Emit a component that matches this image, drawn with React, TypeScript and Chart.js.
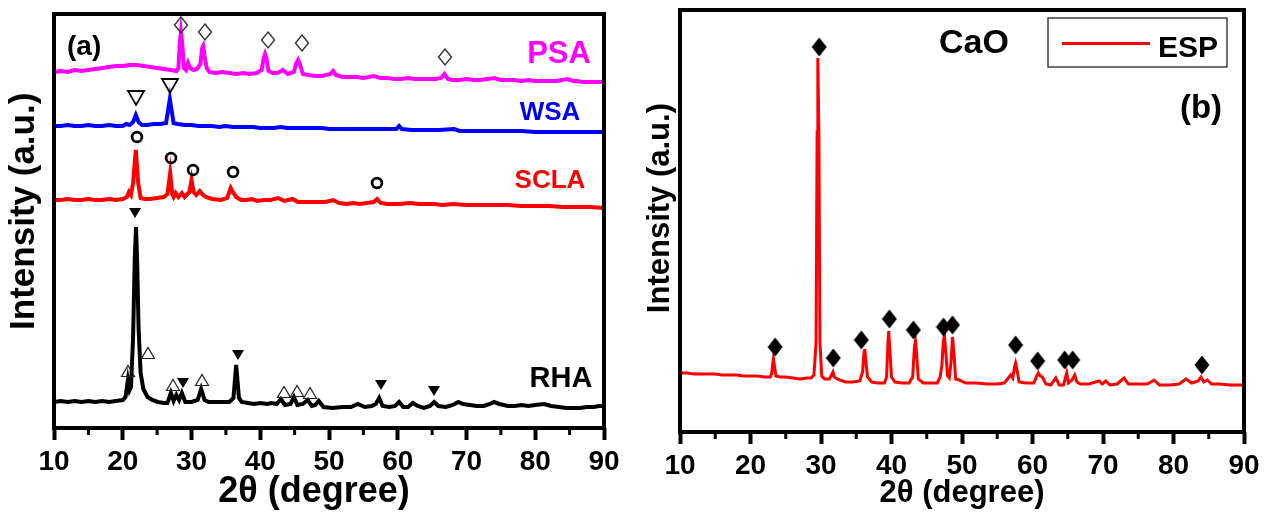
import { useEffect, useRef } from "react";
import { Chart, registerables } from "chart.js";

Chart.register(...registerables);

const FONT = "'Liberation Sans', Arial, Helvetica, sans-serif";

type P = [number, number];

// ---- Panel (a): XRD patterns of the four ashes (2θ in degrees, intensity in a.u.) ----
const PSA: P[] = [
  [10, 356], [11, 357], [12, 356], [13, 358], [14, 357], [15, 358], [16, 359], [17, 360], [18, 361], [19, 362],
  [20, 362], [21, 363], [22, 363], [23, 362], [24, 361], [25, 360], [26, 359], [27, 358], [27.8, 357], [28.1, 360],
  [28.3, 385], [28.47, 396], [28.65, 385], [28.9, 360], [29.2, 358], [29.5, 365], [29.8, 360], [30.3, 358], [30.8, 359],
  [31.3, 364], [31.55, 380], [31.7, 382], [31.9, 372], [32.2, 360], [32.6, 356], [33.5, 355], [34.5, 356], [35.5, 355],
  [36.5, 354], [37.5, 355], [38.5, 354], [39.5, 355], [40.2, 358], [40.5, 370], [40.7, 374], [40.9, 370], [41.2, 357],
  [41.8, 355], [42.5, 355], [43.3, 358], [44, 354], [44.9, 356], [45.2, 364], [45.5, 368], [45.8, 363], [46.2, 354],
  [47, 353], [48, 352], [49, 352], [50.2, 354], [50.6, 357], [51, 353], [52, 351], [53, 351], [54, 351], [55, 350],
  [56.5, 352], [57.5, 350], [58.5, 350], [59.5, 349], [60.5, 349], [61.5, 350], [62.5, 349], [63.5, 349], [64.5, 349],
  [65.5, 349], [66.3, 350], [66.8, 354], [67.3, 349], [68, 348], [69, 348], [70, 349], [71, 348], [72, 348], [73, 349],
  [74, 350], [75, 348], [76, 348], [77, 348], [78, 347], [79, 348], [80, 347], [81, 347], [82, 347], [83, 347],
  [84.7, 349], [85.5, 347], [86, 347], [87, 346], [88, 346], [89, 346], [90, 346],
];

const WSA: P[] = [
  [10, 302], [11, 302], [12, 303], [13, 302], [14, 302], [15, 303], [16, 302], [17, 302], [18, 303], [19, 302],
  [20, 302], [20.5, 304], [21, 303], [21.5, 306], [21.9, 313], [22.3, 306], [22.8, 303], [23.5, 303], [24.5, 304],
  [25.5, 304], [26.3, 305], [26.6, 318], [26.85, 329], [27.1, 318], [27.4, 305], [28, 304], [29, 303], [30, 303],
  [31, 302], [32, 302], [33, 302], [34, 301], [35, 302], [36, 301], [37, 301], [38, 301], [39, 301], [40, 300],
  [41, 300], [42, 300], [43, 301], [44, 300], [45, 300], [46, 300], [47, 300], [48, 300], [49, 300], [50, 299],
  [52, 299], [54, 299], [56, 299], [58, 299], [59.8, 299], [60.2, 302], [60.6, 299], [62, 298], [64, 298], [66, 298],
  [68.2, 299], [69, 297], [70, 297], [72, 297], [74, 297], [76, 297], [78, 297], [80, 296], [82, 296], [84, 296],
  [86, 296], [88, 296], [90, 296],
];

const SCLA: P[] = [
  [10, 228], [11, 228], [12, 229], [13, 228], [14, 228], [15, 229], [16, 228], [17, 228], [18, 229], [19, 228],
  [20, 229], [20.6, 231], [20.9, 236], [21.2, 233], [21.5, 245], [21.9, 278], [22.25, 245], [22.6, 230], [23.2, 229],
  [24, 229], [25, 230], [26, 231], [26.5, 234], [26.9, 255], [27.2, 234], [27.4, 231], [27.7, 235], [28.1, 231],
  [28.6, 235], [29.0, 231], [29.7, 236], [30.0, 248], [30.3, 236], [30.7, 233], [31.2, 237], [31.7, 233], [32.1, 231],
  [33, 229], [34.3, 228], [35.2, 230], [35.5, 236], [35.7, 240], [36.1, 235], [36.5, 231], [37.2, 228], [38, 228],
  [38.8, 229], [39.6, 227], [40.5, 228], [41.5, 228], [42.6, 230], [43.5, 227], [44.7, 229], [45.5, 226], [46.5, 226],
  [47.5, 226], [48.5, 226], [49.5, 226], [50.6, 228], [51.5, 225], [52.5, 224], [53.5, 225], [54.5, 224], [55.5, 225],
  [56.5, 226], [57.0, 229], [57.5, 225], [58.5, 224], [60, 224], [61.9, 225], [63, 224], [65.3, 224], [66.5, 223],
  [68, 224], [70, 223], [72, 223], [74, 223], [76, 223], [78, 222], [80, 222], [82, 222], [84, 221], [86, 221],
  [88, 221], [90, 220],
];

const RHA: P[] = [
  [10, 26], [11, 27], [12, 26], [13, 27], [14, 26], [15, 27], [16, 26], [17, 27], [18, 26], [19, 27], [20, 28],
  [20.4, 31], [20.75, 48], [21.0, 38], [21.2, 41], [21.5, 90], [21.75, 170], [21.93, 201], [22.1, 165], [22.3, 100],
  [22.6, 55], [23.0, 39], [23.6, 31], [24.3, 28], [25.1, 26], [26.0, 25], [26.5, 25], [27.0, 35], [27.4, 27],
  [27.8, 33], [28.2, 28], [28.6, 35], [29.1, 26], [30.0, 26], [30.9, 28], [31.4, 39], [31.9, 28], [32.5, 26],
  [33.5, 26], [34.5, 26], [35.5, 26], [36.1, 30], [36.5, 63], [36.9, 30], [37.3, 26], [38.2, 25], [39.1, 24],
  [40.0, 25], [41.0, 24], [41.6, 25], [42.4, 24], [43.0, 29], [43.6, 23], [44.4, 24], [44.9, 31], [45.4, 23],
  [46.2, 24], [46.9, 28], [47.5, 22], [48.0, 23], [48.5, 27], [49.2, 21], [50.5, 20], [52.0, 21], [53.2, 21],
  [54.2, 24], [55.2, 21], [56.2, 22], [56.8, 24], [57.3, 30], [57.8, 22], [58.8, 21], [59.6, 22], [60.2, 26],
  [60.8, 21], [61.5, 21], [62.2, 25], [62.9, 22], [63.8, 20], [64.7, 22], [65.3, 26], [65.9, 22], [67.0, 21],
  [68.0, 23], [68.8, 26], [69.5, 24], [70.5, 23], [71.5, 22], [72.5, 22], [73.4, 24], [74.0, 26], [74.8, 24],
  [76.0, 22], [77.0, 22], [78.0, 23], [79.0, 22], [80.0, 23], [81.3, 24], [82.3, 22], [83.5, 21], [84.5, 20],
  [85.5, 20], [86.5, 20], [87.5, 21], [88.5, 21], [89.3, 22], [90, 22],
];

// Phase markers for panel (a): [2θ, height]
const PSA_DIAMONDS: P[] = [[28.47, 403], [31.96, 396], [41.13, 388], [46.07, 385], [66.87, 371]];
const WSA_TRIANGLES: P[] = [[21.93, 330], [26.87, 342]];
const SCLA_CIRCLES: P[] = [[22.07, 291], [27.02, 270], [30.22, 258], [36.04, 256], [56.98, 245]];
const RHA_SOLID_TRI: P[] = [[21.78, 215], [28.76, 45], [36.76, 73], [57.56, 43], [65.27, 37]];
const RHA_OPEN_TRI: P[] = [[20.76, 57], [23.67, 75], [27.31, 43], [31.53, 48], [43.45, 36], [45.35, 37], [47.24, 35]];

// ---- Panel (b): CaO from eggshell powder ----
const ESP: P[] = [
  [10, 59], [11, 59], [12, 58], [13, 58], [14, 58], [15, 58], [16, 57], [17, 57], [18, 57], [19, 56], [20, 56],
  [21, 56], [22, 55], [22.8, 55], [23.0, 58], [23.15, 68], [23.25, 73], [23.4, 66], [23.6, 56], [24.2, 55], [25, 55],
  [26, 54], [27, 53], [28, 54], [28.6, 54], [29.0, 57], [29.3, 90], [29.45, 300], [29.55, 374], [29.7, 300],
  [29.85, 90], [30.1, 56], [30.5, 53], [31.2, 53], [31.5, 57], [31.7, 60], [31.9, 55], [32.3, 53], [32.7, 52],
  [33.5, 50], [34.5, 50], [35.5, 51], [35.9, 60], [36.1, 80], [36.2, 83], [36.35, 72], [36.6, 55], [37.2, 50],
  [38, 49], [39, 49], [39.3, 55], [39.5, 90], [39.6, 101], [39.75, 85], [40.0, 55], [40.5, 50], [41.5, 49],
  [42.5, 49], [43.0, 55], [43.25, 85], [43.4, 91], [43.55, 80], [43.8, 53], [44.5, 49], [45.5, 49], [46.5, 49],
  [46.9, 55], [47.15, 67], [47.35, 90], [47.5, 97], [47.7, 80], [47.95, 56], [48.2, 54], [48.45, 70], [48.65, 95],
  [48.85, 80], [49.1, 53], [49.6, 52], [50.5, 49], [52, 49], [53.5, 48], [55, 48], [56.0, 49], [56.9, 57],
  [57.2, 54], [57.45, 65], [57.6, 69], [57.8, 62], [58.1, 50], [59, 49], [60.2, 49], [60.6, 56], [60.83, 59],
  [61.1, 56], [61.4, 55], [61.9, 48], [62.6, 47], [63.3, 54], [63.8, 47], [64.4, 47], [64.7, 55], [64.85, 59],
  [65.1, 49], [65.6, 52], [65.99, 57], [66.3, 50], [66.8, 48], [68, 48], [69.45, 51], [69.9, 48], [70.4, 51],
  [71.0, 47], [72.0, 48], [72.99, 54], [73.6, 48], [75, 48], [76.3, 48], [77.26, 52], [78, 47], [79.5, 47],
  [80.8, 48], [81.76, 53], [82.6, 49], [83.5, 51], [83.9, 55], [84.3, 50], [84.8, 52], [85.4, 48], [86.5, 48],
  [88, 47], [90, 47],
];
const ESP_DIAMONDS: P[] = [
  [23.5, 85], [29.75, 385], [31.74, 74], [35.72, 92], [39.7, 113], [43.11, 102], [47.37, 105], [48.65, 107],
  [57.6, 87], [60.73, 71], [64.56, 72], [65.7, 72], [84.03, 67],
];

const X_TICKS_MINOR = [15, 25, 35, 45, 55, 65, 75, 85];

const xy = (pts: P[]) => pts.map(([x, y]) => ({ x, y }));

// Small bitmap glyphs used as point styles for the phase markers
function glyph(w: number, h: number, draw: (c: CanvasRenderingContext2D) => void) {
  const cv = document.createElement("canvas");
  cv.width = w;
  cv.height = h;
  const c = cv.getContext("2d")!;
  draw(c);
  return cv;
}

function poly(c: CanvasRenderingContext2D, pts: number[][]) {
  c.beginPath();
  c.moveTo(pts[0][0], pts[0][1]);
  for (let i = 1; i < pts.length; i++) c.lineTo(pts[i][0], pts[i][1]);
  c.closePath();
}

function makeGlyphs() {
  return {
    openDiamond: glyph(16, 20, (c) => {
      poly(c, [[8, 2], [14.5, 10], [8, 18], [1.5, 10]]);
      c.lineWidth = 1.4;
      c.strokeStyle = "#333";
      c.stroke();
    }),
    openTriDown: glyph(20, 18, (c) => {
      poly(c, [[2, 2], [18, 2], [10, 16]]);
      c.lineWidth = 1.8;
      c.strokeStyle = "#000";
      c.stroke();
    }),
    openCircle: glyph(16, 16, (c) => {
      c.beginPath();
      c.arc(8, 8, 4.9, 0, Math.PI * 2);
      c.lineWidth = 2.7;
      c.strokeStyle = "#000";
      c.stroke();
    }),
    solidTriDown: glyph(14, 12, (c) => {
      poly(c, [[1, 1], [13, 1], [7, 11]]);
      c.fillStyle = "#000";
      c.fill();
    }),
    openTriUp: glyph(16, 14, (c) => {
      poly(c, [[1.5, 12.5], [14.5, 12.5], [8, 1.5]]);
      c.lineWidth = 1.2;
      c.strokeStyle = "#222";
      c.stroke();
    }),
    solidDiamond: glyph(16, 20, (c) => {
      poly(c, [[8, 0.5], [15.5, 10], [8, 19.5], [0.5, 10]]);
      c.fillStyle = "#000";
      c.fill();
    }),
  };
}

type Label = { text: string; x: number; y: number; size: number; color: string; align: CanvasTextAlign };

function lineSet(label: string, pts: P[], color: string, width: number) {
  return {
    label,
    data: xy(pts),
    showLine: true,
    borderColor: color,
    backgroundColor: color,
    borderWidth: width,
    pointRadius: 0,
    tension: 0,
    fill: false,
    order: 2,
  };
}

function markSet(pts: P[], style: HTMLCanvasElement) {
  return {
    label: "",
    data: xy(pts),
    showLine: false,
    pointStyle: style,
    pointRadius: 8,
    order: 1,
  };
}

// Frame, minor x ticks, in-plot labels and (optionally) a boxed legend
function decorPlugin(labels: Label[], legend?: { box: number[]; line: number[]; textX: number; textY: number; size: number }) {
  return {
    id: "decor",
    afterDraw(chart: any) {
      const { ctx, chartArea: a, scales } = chart;
      ctx.save();
      ctx.strokeStyle = "#000";
      ctx.lineWidth = 3;
      for (const v of X_TICKS_MINOR) {
        const px = scales.x.getPixelForValue(v);
        ctx.beginPath();
        ctx.moveTo(px, a.bottom);
        ctx.lineTo(px, a.bottom + 7);
        ctx.stroke();
      }
      ctx.lineWidth = 4;
      ctx.strokeRect(a.left, a.top, a.right - a.left, a.bottom - a.top);

      ctx.textBaseline = "alphabetic";
      for (const l of labels) {
        ctx.font = `bold ${l.size}px ${FONT}`;
        ctx.fillStyle = l.color;
        ctx.textAlign = l.align;
        ctx.fillText(l.text, l.x, l.y);
      }

      if (legend) {
        const ds = chart.data.datasets.find((d: any) => d.showLine);
        const [bx, by, bw, bh] = legend.box;
        ctx.lineWidth = 1.4;
        ctx.strokeStyle = "#333";
        ctx.strokeRect(bx, by, bw, bh);
        ctx.lineWidth = 3;
        ctx.strokeStyle = ds.borderColor;
        ctx.beginPath();
        ctx.moveTo(legend.line[0], legend.line[2]);
        ctx.lineTo(legend.line[1], legend.line[2]);
        ctx.stroke();
        ctx.font = `bold ${legend.size}px ${FONT}`;
        ctx.fillStyle = "#000";
        ctx.textAlign = "left";
        ctx.fillText(ds.label, legend.textX, legend.textY);
      }
      ctx.restore();
    },
  };
}

type Layout = {
  yMax: number;
  yWidth: number;
  xHeight: number;
  padTop: number;
  padRight: number;
  xTitle: string;
  xTitleSize: number;
  xTitlePad: number;
  yTitle: string;
  yTitleSize: number;
  yTitlePad: number;
};

function makeOptions(L: Layout) {
  return {
    responsive: false,
    animation: false,
    devicePixelRatio: 1,
    events: [],
    layout: { padding: { top: L.padTop, right: L.padRight, left: 0, bottom: 0 } },
    plugins: { legend: { display: false }, tooltip: { enabled: false } },
    scales: {
      x: {
        type: "linear",
        min: 10,
        max: 90,
        ticks: {
          stepSize: 10,
          autoSkip: false,
          maxRotation: 0,
          minRotation: 0,
          padding: 5,
          color: "#000",
          font: { family: FONT, size: 28, weight: "bold" },
        },
        grid: { display: true, drawOnChartArea: false, drawTicks: true, tickLength: 12, tickWidth: 4, tickColor: "#000", color: "#000" },
        border: { display: false },
        title: {
          display: true,
          text: L.xTitle,
          color: "#000",
          font: { family: FONT, size: L.xTitleSize, weight: "bold" },
          padding: { top: 0, bottom: L.xTitlePad },
        },
        afterFit: (s: any) => {
          s.height = L.xHeight;
        },
      },
      y: {
        type: "linear",
        min: 0,
        max: L.yMax,
        ticks: { display: false },
        grid: { display: false },
        border: { display: false },
        title: {
          display: true,
          text: L.yTitle,
          color: "#000",
          font: { family: FONT, size: L.yTitleSize, weight: "bold" },
          padding: { top: L.yTitlePad, bottom: 0 },
        },
        afterFit: (s: any) => {
          s.width = L.yWidth;
        },
      },
    },
  };
}

export default function App() {
  const refA = useRef<HTMLCanvasElement>(null);
  const refB = useRef<HTMLCanvasElement>(null);

  useEffect(() => {
    const g = makeGlyphs();

    const chartA = new Chart(refA.current!, {
      type: "scatter",
      data: {
        datasets: [
          markSet(PSA_DIAMONDS, g.openDiamond),
          markSet(WSA_TRIANGLES, g.openTriDown),
          markSet(SCLA_CIRCLES, g.openCircle),
          markSet(RHA_SOLID_TRI, g.solidTriDown),
          markSet(RHA_OPEN_TRI, g.openTriUp),
          lineSet("PSA", PSA, "#ff00ff", 4),
          lineSet("WSA", WSA, "#0000ff", 4),
          lineSet("SCLA", SCLA, "#ff0000", 4),
          lineSet("RHA", RHA, "#000000", 4),
        ],
      },
      options: makeOptions({
        yMax: 414,
        yWidth: 54,
        xHeight: 89,
        padTop: 14,
        padRight: 32,
        xTitle: "2θ (degree)   ",
        xTitleSize: 36,
        xTitlePad: 3,
        yTitle: "  Intensity (a.u.)",
        yTitleSize: 35,
        yTitlePad: 3,
      }) as any,
      plugins: [
        decorPlugin([
          { text: "(a)", x: 67, y: 55, size: 28, color: "#000", align: "left" },
          { text: "PSA", x: 559, y: 63, size: 31, color: "#ff00ff", align: "center" },
          { text: "WSA", x: 550, y: 120, size: 26, color: "#0000ff", align: "center" },
          { text: "SCLA", x: 550, y: 188, size: 26, color: "#ff0000", align: "center" },
          { text: "RHA", x: 561, y: 387, size: 29, color: "#000", align: "center" },
        ]) as any,
      ],
    });

    const chartB = new Chart(refB.current!, {
      type: "scatter",
      data: {
        datasets: [markSet(ESP_DIAMONDS, g.solidDiamond), lineSet("ESP", ESP, "#ff0000", 3)],
      },
      options: makeOptions({
        yMax: 422,
        yWidth: 44,
        xHeight: 85,
        padTop: 10,
        padRight: 28,
        xTitle: "2θ (degree)",
        xTitleSize: 31,
        xTitlePad: 5,
        yTitle: "   Intensity (a.u.)",
        yTitleSize: 31,
        yTitlePad: 6,
      }) as any,
      plugins: [
        decorPlugin(
          [
            { text: "CaO", x: 338, y: 53, size: 34, color: "#000", align: "center" },
            { text: "(b)", x: 565, y: 118, size: 33, color: "#000", align: "center" },
          ],
          { box: [412, 18, 179, 49], line: [426, 514, 43.5], textX: 522, textY: 57, size: 30 }
        ) as any,
      ],
    });

    return () => {
      chartA.destroy();
      chartB.destroy();
    };
  }, []);

  return (
    <div style={{ position: "fixed", left: 0, top: 0, width: 1272, height: 517, background: "#fff" }}>
      <canvas ref={refA} width={636} height={517} style={{ position: "absolute", left: 0, top: 0 }} />
      <canvas ref={refB} width={636} height={517} style={{ position: "absolute", left: 636, top: 0 }} />
    </div>
  );
}
